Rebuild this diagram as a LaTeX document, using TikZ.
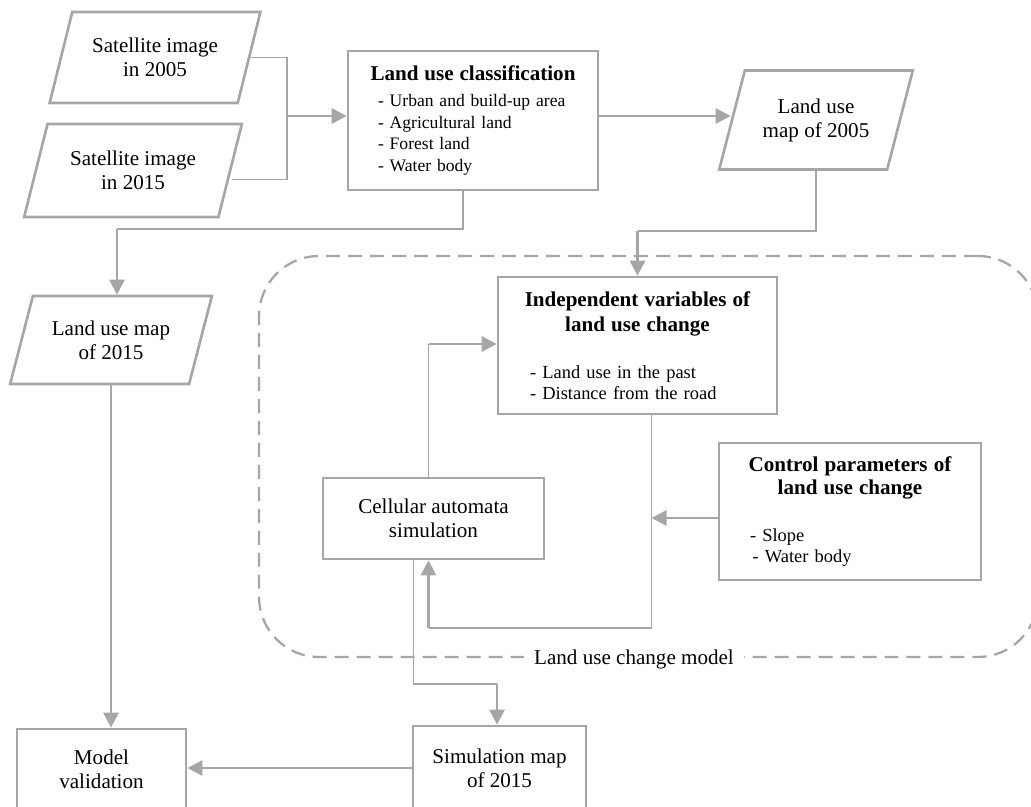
\documentclass[tikz,border=0pt]{standalone}
\usepackage{fontspec}
\setmainfont{Liberation Serif}
\usetikzlibrary{shapes.geometric,arrows.meta}
\definecolor{linegray}{RGB}{166,166,166}

\begin{document}
\begin{tikzpicture}[x=0.02cm,y=-0.02cm,>={Triangle[length=0.3cm,width=0.3cm]}]
  \tikzstyle{datashape}=[draw=linegray, line width=1.5pt, trapezium, trapezium left angle=66,
    trapezium right angle=114, trapezium stretches=true, inner sep=0pt, align=center,
    font=\fontsize{12}{13.6}\selectfont]
  \tikzstyle{plainbox}=[draw=linegray, line width=1.5pt, inner sep=0pt, align=center,
    font=\fontsize{12}{13.6}\selectfont]
  \tikzstyle{infobox}=[draw=linegray, line width=1.5pt, inner xsep=0.6cm, inner ysep=0pt,
    align=left]
  \tikzstyle{arrline}=[draw=linegray, line width=1.6pt, ->]
  \tikzstyle{thinline}=[draw=linegray, line width=0.7pt]
  \tikzstyle{frame}=[draw=linegray, line width=1.3pt, dash pattern=on 0.28cm off 0.16cm,
    rounded corners=1.2cm]

  \useasboundingbox (0,0) rectangle (1031,807);
  \clip (0,0) rectangle (1031,807);

  % model frame
  \node[frame, minimum width=15.58cm, minimum height=8.02cm] (lucm) at (648.5,456.5) {};
  \node[fill=white, inner xsep=0.2cm, inner ysep=1pt, font=\fontsize{12}{13.6}\selectfont]
    (lucmlabel) at (634,659) {Land use change model};

  % inputs and maps
  \node[datashape, minimum width=4.24cm, minimum height=1.82cm] (sat05) at (155,57.5) {Satellite image\\in 2005};
  \node[datashape, minimum width=4.38cm, minimum height=1.86cm] (sat15) at (133,170.5) {Satellite image\\in 2015};
  \node[datashape, minimum width=3.88cm, minimum height=1.98cm] (lu05) at (816,120) {Land use\\map of 2005};
  \node[datashape, minimum width=4.04cm, minimum height=1.76cm] (lu15) at (111,340) {Land use map\\of 2015};

  \node[infobox, minimum width=5.0cm, minimum height=2.78cm, text width=3.8cm,
    font=\fontsize{10}{12.2}\selectfont] (class) at (473,120.5)
    {\makebox[\linewidth]{\fontsize{12}{14}\selectfont\bfseries Land use classification}\\[2.5pt]
     \mbox{- Urban and build-up area}\\- Agricultural land\\- Forest land\\- Water body};

  \node[infobox, minimum width=5.58cm, minimum height=2.74cm, text width=4.3cm,
    font=\fontsize{10.5}{12}\selectfont] (indep) at (637.5,345.5)
    {\makebox[\linewidth]{\fontsize{12}{14}\selectfont\bfseries Independent variables of}\\[2.2pt]
     \makebox[\linewidth]{\fontsize{12}{14}\selectfont\bfseries land use change}\\[15pt]
     - Land use in the past\\- Distance from the road};

  \node[infobox, minimum width=5.24cm, minimum height=2.74cm, text width=4.0cm,
    font=\fontsize{10.5}{12}\selectfont] (ctrl) at (850,511.5)
    {\makebox[\linewidth]{\fontsize{12}{14}\selectfont\bfseries Control parameters of}\\[1pt]
     \makebox[\linewidth]{\fontsize{12}{14}\selectfont\bfseries land use change}\\[15pt]
     - Slope\\\hspace*{1.5pt}- Water body};

  \node[plainbox, minimum width=4.42cm, minimum height=1.62cm] (cell) at (433.5,518.5) {Cellular automata\\simulation};
  \node[plainbox, minimum width=3.46cm, minimum height=1.68cm] (sim) at (499.5,768) {Simulation map\\of 2015};
  \node[plainbox, minimum width=3.38cm, minimum height=1.62cm] (valid) at (101.5,769.5) {Model\\validation};

  % connectors
  \coordinate (join) at (287,116);
  \draw[thinline] (sat05.east) -| (join);
  \draw[thinline] ([yshift=-0.18cm]sat15.east) -| (join);
  \draw[arrline] (join) -- (join -| class.west);
  \draw[arrline] (class.east |- join) -- (join -| lu05.west);

  \coordinate (bendA) at (117,229);
  \draw[thinline] ([xshift=-0.2cm]class.south) |- (bendA);
  \draw[arrline] (bendA) -- (bendA |- lu15.north);

  \coordinate (bendB) at (637.5,231);
  \draw[thinline] (lu05.center |- lu05.south) |- (bendB);
  \draw[arrline] (bendB) -- (indep.north);

  \draw[arrline] (lu15.south) -- (lu15.south |- valid.north);

  \coordinate (bendC) at (428.5,344);
  \draw[thinline] (cell.north -| bendC) -- (bendC);
  \draw[arrline] (bendC) -- (bendC -| indep.west);

  \coordinate (bendE) at (651.5,518);
  \coordinate (bendD) at (428.5,628);
  \draw[thinline] (bendE |- indep.south) |- (bendD);
  \draw[arrline] (bendD) -- (bendD |- cell.south);
  \draw[arrline] (ctrl.west |- bendE) -- (bendE);

  \coordinate (bendF) at (497,684);
  \draw[thinline] ([xshift=-0.4cm]cell.south) |- (bendF);
  \draw[arrline] (bendF) -- (bendF |- sim.north);
  \draw[arrline] (sim.west) -- (sim.west -| valid.east);
\end{tikzpicture}
\end{document}
